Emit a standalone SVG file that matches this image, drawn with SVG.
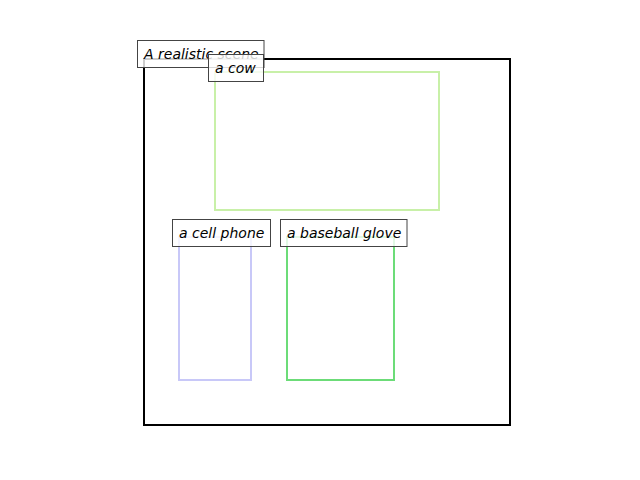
<svg xmlns="http://www.w3.org/2000/svg" width="640" height="480" viewBox="0 0 640 480">
<style>
.r{fill:none;stroke-width:2;stroke-linejoin:miter}
.lb{fill:#ffffff;fill-opacity:0.8;stroke:#444444;stroke-width:1}
.t{font-family:"DejaVu Sans",sans-serif;font-style:oblique;font-size:14px;fill:#000}
</style>
<rect width="640" height="480" fill="#fff"/>
<g id="scene">
<rect class="r" x="144" y="59" width="366" height="366" stroke="#000"/>
</g>
<g id="cow">
<rect class="r" x="215" y="72" width="224" height="138" stroke="#c8f0a8"/>
</g>
<g id="cellphone">
<rect class="r" x="179" y="237" width="72" height="143" stroke="#c8c8f8"/>
</g>
<g id="glove">
<rect class="r" x="287" y="237" width="107" height="143" stroke="#6cdc78"/>
</g>
<g id="label-scene">
<rect class="lb" x="137.5" y="40.5" width="126.5" height="27"/>
<text class="t" x="144" y="59">A realistic scene</text>
</g>
<g id="label-cow">
<rect class="lb" x="208.5" y="54.5" width="55" height="27"/>
<text class="t" x="215" y="73">a cow</text>
</g>
<g id="label-cellphone">
<rect class="lb" x="172.5" y="219.5" width="98" height="27"/>
<text class="t" x="179" y="238">a cell phone</text>
</g>
<g id="label-glove">
<rect class="lb" x="280.5" y="219.5" width="126.5" height="27"/>
<text class="t" x="287" y="238">a baseball glove</text>
</g>
<g id="connectors"/>
</svg>
